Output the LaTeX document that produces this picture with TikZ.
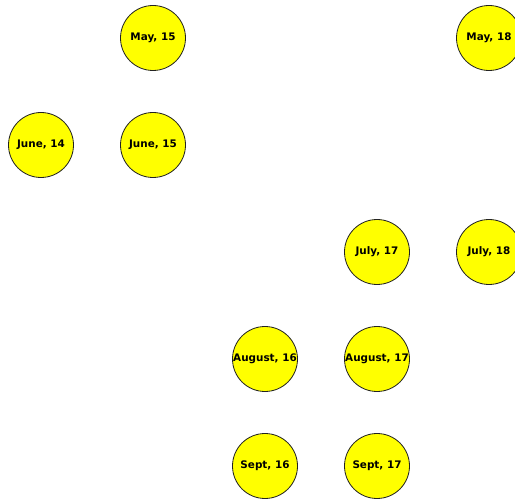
\documentclass[tikz,border=0pt]{standalone}
\usepackage{fontspec}
\setmainfont{DejaVu Sans}
\usepackage{tikz}
\usetikzlibrary{positioning}
\definecolor{monthyellow}{HTML}{FFFF00}
\definecolor{monthedge}{HTML}{222222}

\begin{document}
\begin{tikzpicture}[
  x=1pt,y=-1pt,
  month/.style={circle,draw=monthedge,fill=monthyellow,line width=0.8pt,minimum size=65pt,inner sep=0pt,font=\fontsize{10.4}{12}\selectfont\bfseries}
]
\useasboundingbox (0,0) rectangle (515,500);
\node[month] (may15) at (153,38) {May, 15};
\node[month] (may18) at (489,38) {May, 18};
\node[month] (june14) at (41,145) {June, 14};
\node[month] (june15) at (153,145) {June, 15};
\node[month] (july17) at (377,252) {July, 17};
\node[month] (july18) at (489,252) {July, 18};
\node[month] (aug16) at (265,359) {August, 16};
\node[month] (aug17) at (377,359) {August, 17};
\node[month] (sept16) at (265,466) {Sept, 16};
\node[month] (sept17) at (377,466) {Sept, 17};
\end{tikzpicture}
\end{document}
